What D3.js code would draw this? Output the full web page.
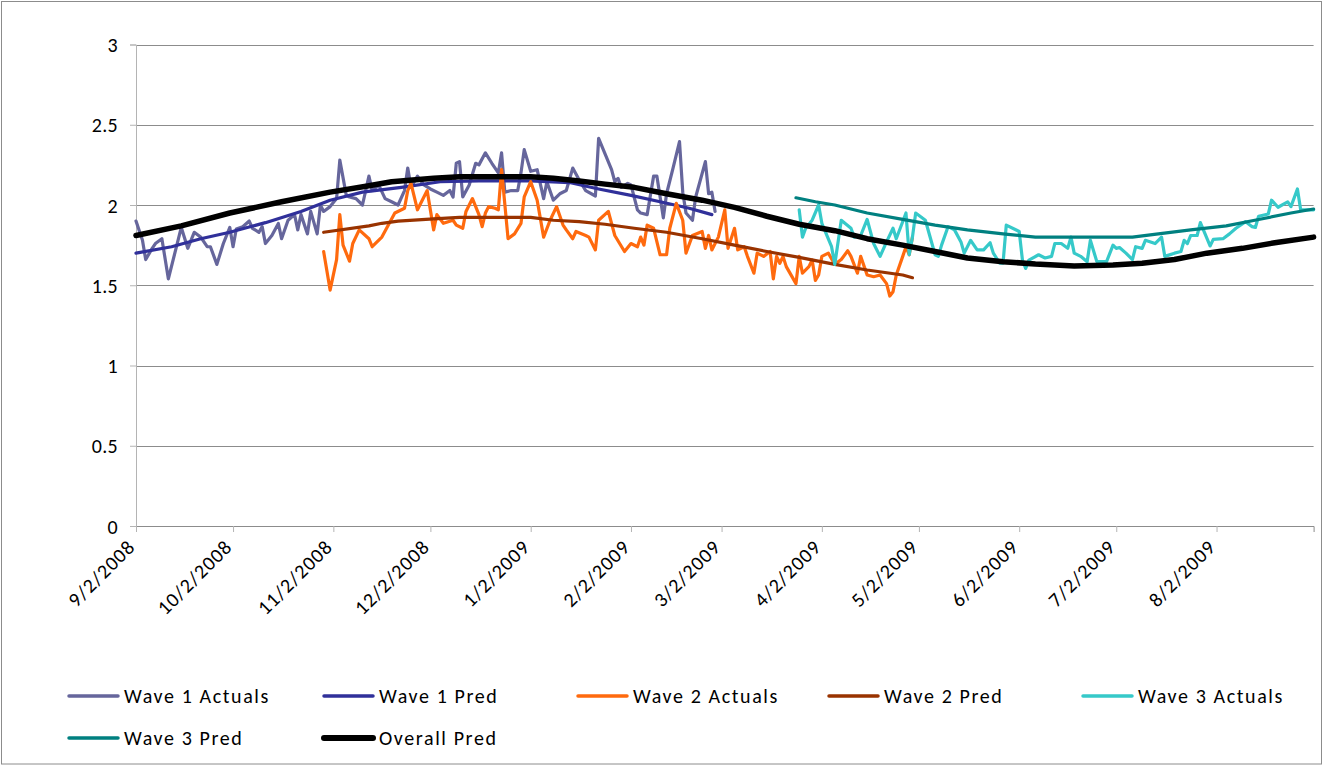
<!DOCTYPE html>
<html>
<head>
<meta charset="utf-8">
<script src="https://cdn.jsdelivr.net/npm/d3@7/dist/d3.min.js"></script>
<style>
  html, body { margin: 0; padding: 0; background: #fff; }
  svg { display: block; }
  text { font-family: Carlito, Calibri, Lato, "Open Sans", sans-serif; fill: #000; }
</style>
</head>
<body>
<svg id="chart" width="1333" height="766"></svg>
<script>
// ---------------- DATA ----------------
const startDate = "9/2/2008";
const endDate = "9/1/2009";
const xTickLabels = ["9/2/2008","10/2/2008","11/2/2008","12/2/2008","1/2/2009","2/2/2009",
  "3/2/2009","4/2/2009","5/2/2009","6/2/2009","7/2/2009","8/2/2009"];
const yTicks = [0, 0.5, 1, 1.5, 2, 2.5, 3];
const seriesNames = ["Wave 1 Actuals","Wave 1 Pred","Wave 2 Actuals","Wave 2 Pred",
  "Wave 3 Actuals","Wave 3 Pred","Overall Pred"];

// days since 9/2/2008 and values
const wave1ActDays = [0,2,3,5,6,8,10,12,14,16,18,20,22,23,25,27,29,30,31,33,35,36,38,39,40,42,44,45,47,49,50,51,53,54,56,57,58,60,62,63,65,66,68,70,72,
  73,75,77,79,81,83,84,85,87,89,91,93,95,97,98,99,100,101,103,105,106,108,110,112,113,114,116,118,119,120,122,124,126,127,129,131,133,135,137,139,142,143,
  147,148,149,150,152,153,155,156,158,160,161,163,164,166,168,169,170,172,173,176,177,178,179];
const wave1Act = [1.90,1.78,1.66,1.73,1.76,1.79,1.54,1.70,1.86,1.73,1.83,1.80,1.74,1.74,1.63,1.76,1.86,1.74,1.85,1.865,1.90,1.855,1.83,1.865,1.76,1.81,1.885,1.79,1.905,1.94,1.845,1.94,1.82,1.96,1.82,2.00,1.96,1.99,2.04,2.28,2.06,2.05,2.04,2.00,2.18,
  2.09,2.125,2.04,2.02,2.00,2.09,2.23,2.11,2.18,2.125,2.10,2.08,2.06,2.09,2.05,2.26,2.27,2.05,2.125,2.26,2.25,2.325,2.26,2.20,2.325,2.08,2.09,2.09,2.20,2.345,2.21,2.22,2.04,2.145,2.03,2.07,2.09,2.23,2.156,2.09,2.056,2.415,
  2.22,2.145,2.166,2.11,2.135,2.125,1.97,1.95,1.94,2.18,2.18,1.92,2.07,2.23,2.395,2.08,1.95,1.905,2.05,2.27,2.07,2.08,1.96];

const wave1PredDays = [0,11,20,29,40,51,60,70,82,94,106,122,134,143,153,162,171,178];
const wave1Pred = [1.70,1.74,1.79,1.83,1.89,1.96,2.03,2.08,2.11,2.145,2.15,2.15,2.14,2.10,2.06,2.02,1.98,1.94];

const wave2ActDays = [58,60,62,63,64,66,67,69,72,73,76,78,80,83,84,85,87,90,92,93,95,98,99,101,102,104,106,107,108,109,111,112,113,
  115,117,119,120,122,124,126,128,130,132,133,135,136,139,140,142,143,146,148,151,153,155,156,157,158,160,162,164,165,167,169,170,172,175,176,177,178,
  180,182,183,185,186,188,189,191,192,194,196,197,198,199,200,201,204,205,206,208,209,210,211,212,214,216,218,220,221,223,224,226,228,230,232,233,234,235,237,238,239,240];
const wave2Act = [1.71,1.47,1.66,1.94,1.75,1.65,1.76,1.845,1.79,1.74,1.80,1.875,1.95,1.98,2.09,2.135,1.97,2.09,1.845,1.94,1.886,1.905,1.875,1.855,1.96,2.04,1.94,1.865,1.95,1.99,1.98,1.97,2.22,
  1.79,1.82,1.886,2.05,2.145,2.03,1.80,1.905,1.99,1.875,1.845,1.79,1.835,1.81,1.80,1.72,1.905,1.96,1.81,1.71,1.76,1.74,1.80,1.75,1.875,1.855,1.69,1.69,1.855,2.01,1.905,1.70,1.81,1.835,1.73,1.81,1.72,
  1.80,1.97,1.73,1.855,1.72,1.74,1.68,1.575,1.70,1.68,1.71,1.54,1.68,1.637,1.68,1.616,1.51,1.68,1.575,1.616,1.657,1.53,1.564,1.68,1.70,1.63,1.66,1.715,1.68,1.575,1.68,1.564,1.553,1.564,1.51,1.433,1.46,1.564,1.68,1.74,1.69,1.80];

const wave2PredDays = [58,72,76,81,92,100,122,129,137,145,154,164,175,185,195,205,216,226,237,240];
const wave2Pred = [1.83,1.87,1.886,1.90,1.913,1.923,1.923,1.905,1.896,1.88,1.855,1.83,1.79,1.75,1.71,1.674,1.63,1.595,1.564,1.547];

const wave3ActDays = [205,206,207,209,211,212,215,216,218,221,222,224,226,228,230,232,234,235,238,239,240,241,244,247,248,249,251,253,255,256,258,260,262,264,265,267,268,
  269,273,274,275,276,279,281,283,284,286,288,289,290,292,294,295,297,300,302,303,304,306,308,309,311,312,315,317,318,321,323,324,325,326,328,329,
  332,333,336,338,340,343,345,346,347,350,351,353,356,357,359,360,364];
const wave3Act = [1.97,1.80,1.855,1.905,2.00,1.886,1.74,1.63,1.905,1.855,1.80,1.81,1.91,1.76,1.68,1.77,1.855,1.79,1.95,1.69,1.80,1.95,1.905,1.69,1.68,1.75,1.865,1.845,1.77,1.70,1.78,1.72,1.72,1.765,1.70,1.637,1.637,
  1.875,1.835,1.657,1.605,1.657,1.69,1.67,1.68,1.76,1.76,1.73,1.80,1.70,1.68,1.647,1.78,1.647,1.647,1.75,1.73,1.735,1.70,1.66,1.74,1.73,1.78,1.76,1.80,1.68,1.70,1.71,1.78,1.76,1.81,1.81,1.89,
  1.745,1.786,1.79,1.82,1.855,1.896,1.865,1.86,1.93,1.944,2.03,1.986,2.02,1.99,2.10,1.97,1.97];

const wave3PredDays = [204,210,216,226,237,247,257,268,278,290,308,316,326,337,347,357,364];
const wave3Pred = [2.045,2.02,2.00,1.95,1.91,1.875,1.845,1.82,1.80,1.80,1.80,1.82,1.845,1.87,1.91,1.95,1.975];

const overallPredDays = [0,14,29,45,60,72,79,92,100,122,129,137,145,154,164,175,185,195,205,216,226,237,247,257,268,278,290,302,311,321,331,342,352,364];
const overallPred = [1.81,1.87,1.95,2.02,2.08,2.12,2.145,2.166,2.176,2.176,2.166,2.15,2.13,2.11,2.07,2.03,1.985,1.93,1.88,1.84,1.79,1.75,1.71,1.67,1.647,1.632,1.62,1.626,1.637,1.66,1.70,1.73,1.765,1.80];

// ---------------- DRAW ----------------
const parse = d3.timeParse("%m/%d/%Y");
const t0 = parse(startDate);
const svg = d3.select("#chart");

const plot = {left: 136, right: 1313.6, top: 44.5, bottom: 526};
const x = d3.scaleTime().domain([t0, parse(endDate)]).range([plot.left, plot.right]);
const y = d3.scaleLinear().domain([0, 3]).range([plot.bottom, plot.top]);

// outer border
svg.append("rect").attr("x", 1.5).attr("y", 1.5).attr("width", 1320).attr("height", 762.5)
  .attr("fill", "none").attr("stroke", "#8c8c8c").attr("stroke-width", 1);

// gridlines
svg.append("g").selectAll("line").data(yTicks.filter(v => v > 0)).join("line")
  .attr("x1", plot.left).attr("x2", plot.right)
  .attr("y1", d => Math.round(y(d)) + 0.5).attr("y2", d => Math.round(y(d)) + 0.5)
  .attr("stroke", "#8c8c8c").attr("stroke-width", 1);

// y axis
const yAxis = d3.axisLeft(y).tickValues(yTicks).tickSize(6).tickPadding(6)
  .tickFormat(d3.format("~g"));
const gy = svg.append("g").attr("transform", `translate(${plot.left},0)`).call(yAxis);
gy.select(".domain").attr("stroke", "#b4b4b4");
gy.selectAll(".tick line").attr("stroke", "#b4b4b4");
gy.selectAll(".tick text").style("font-size", "20px").style("font-family", "Carlito, Calibri, Lato, sans-serif")
  .style("letter-spacing", "0.3px")
  .attr("x", -18).attr("dy", "0.35em");

// x axis
const xTickDates = xTickLabels.map(parse);
const xAxis = d3.axisBottom(x).tickValues(xTickDates).tickSize(6)
  .tickFormat((d, i) => xTickLabels[i]);
const gx = svg.append("g").attr("transform", `translate(0,${plot.bottom})`).call(xAxis);
gx.select(".domain").attr("stroke", "#8c8c8c");
gx.selectAll(".tick line").attr("stroke", "#b4b4b4");
gx.selectAll(".tick text")
  .style("font-size", "20px").style("font-family", "Carlito, Calibri, Lato, sans-serif")
  .style("letter-spacing", "1.1px")
  .attr("text-anchor", "end").attr("dy", "0").attr("y", 0)
  .attr("transform", "translate(0,22) rotate(-45)");

// series
const mk = (days, vals) => days.map((d, i) => ({date: d3.timeDay.offset(t0, d), v: vals[i]}));
const series = [
  {name: seriesNames[0], data: mk(wave1ActDays, wave1Act), color: "#66669c", w: 3.2},
  {name: seriesNames[1], data: mk(wave1PredDays, wave1Pred), color: "#30309a", w: 3.2},
  {name: seriesNames[2], data: mk(wave2ActDays, wave2Act), color: "#ff6a0e", w: 3.2},
  {name: seriesNames[3], data: mk(wave2PredDays, wave2Pred), color: "#993300", w: 3.2},
  {name: seriesNames[4], data: mk(wave3ActDays, wave3Act), color: "#36c9c9", w: 3.2},
  {name: seriesNames[5], data: mk(wave3PredDays, wave3Pred), color: "#008080", w: 3.2},
  {name: seriesNames[6], data: mk(overallPredDays, overallPred), color: "#000000", w: 5.5}
];
const line = d3.line().x(d => x(d.date)).y(d => y(d.v));
svg.append("g").selectAll("path").data(series).join("path")
  .attr("d", s => line(s.data))
  .attr("fill", "none")
  .attr("stroke", s => s.color)
  .attr("stroke-width", s => s.w)
  .attr("stroke-linejoin", "round")
  .attr("stroke-linecap", "round");

// legend
const legendPos = [[69,696],[324,696],[578,696],[829,696],[1083,696],[69,738],[324,738]];
const lg = svg.append("g");
series.forEach((s, i) => {
  const [lx, ly] = legendPos[i];
  lg.append("line").attr("x1", lx).attr("x2", lx + 49).attr("y1", ly).attr("y2", ly)
    .attr("stroke", s.color).attr("stroke-width", s.w < 5 ? 3.5 : 6).attr("stroke-linecap", "round");
  lg.append("text").attr("x", lx + 55).attr("y", ly).attr("dy", "0.35em")
    .style("font-size", "20px").style("letter-spacing", "1.6px").text(s.name);
});
</script>
</body>
</html>
